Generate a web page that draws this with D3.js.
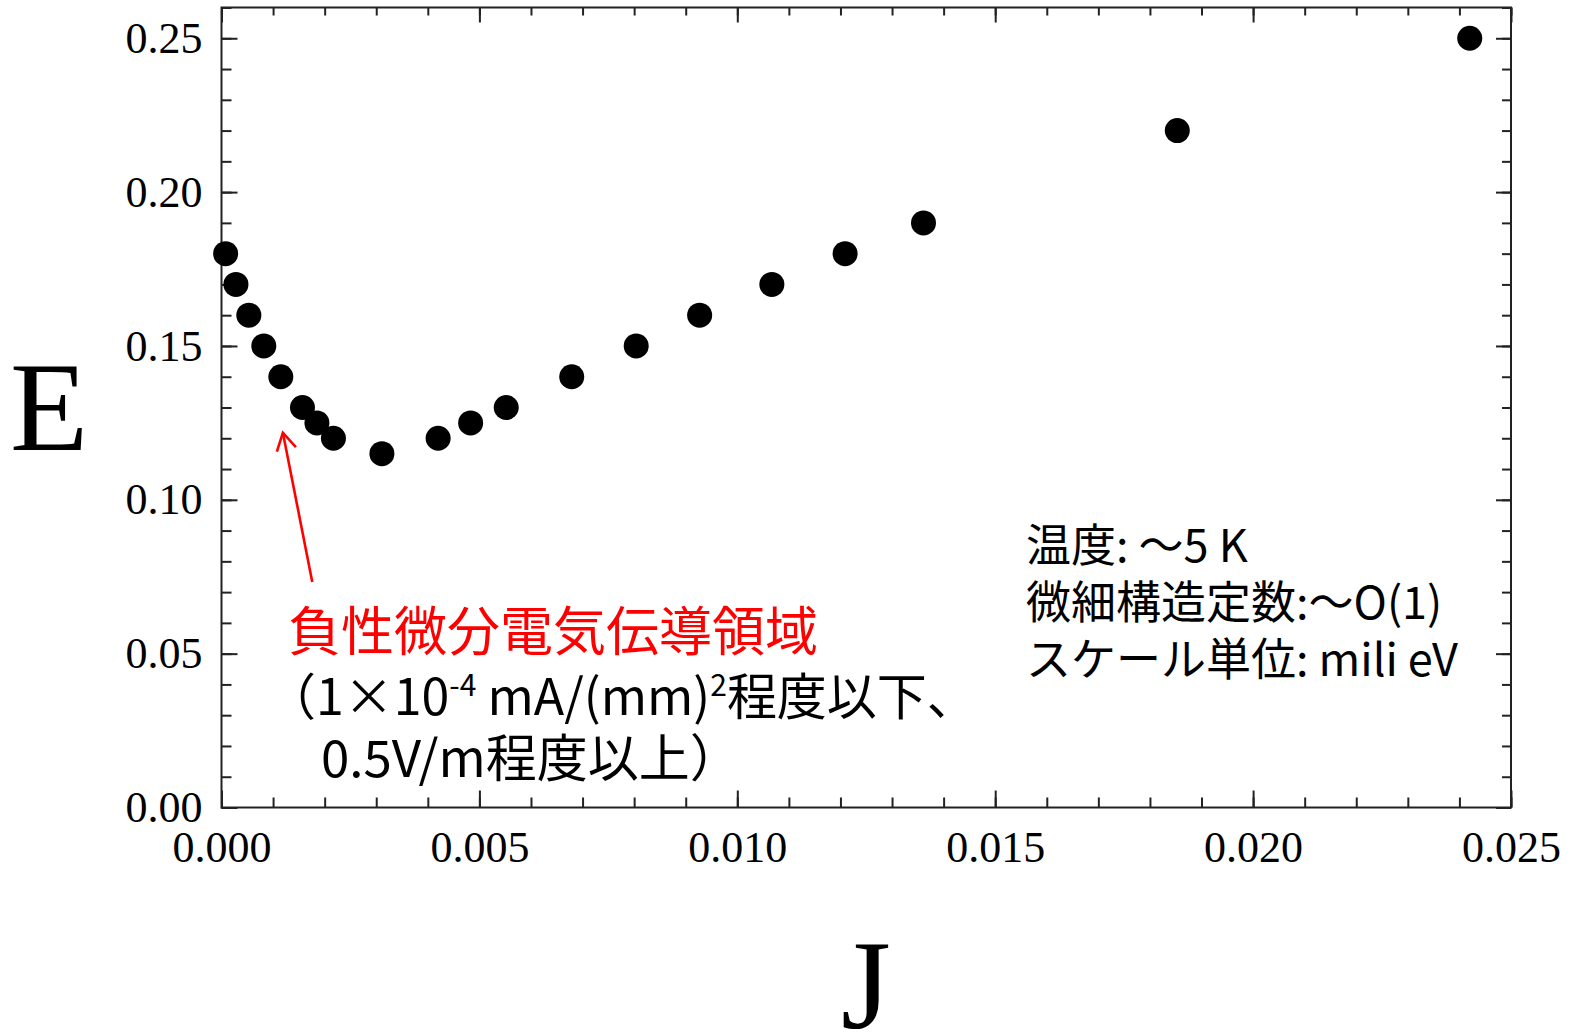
<!DOCTYPE html>
<html>
<head>
<meta charset="utf-8">
<script src="https://cdn.jsdelivr.net/npm/d3@7"></script>
<style>
  html, body { margin: 0; padding: 0; background: #fff; }
  #chart { width: 1574px; height: 1033px; }
  .tick text { font-family: "Liberation Serif", "Times New Roman", serif; font-size: 44px; fill: #000; }
  .jp { font-family: "Noto Sans CJK JP", sans-serif; }
</style>
</head>
<body>
<div id="chart"></div>
<script>
// current density J vs field E
const J = [0.00008, 0.00028, 0.00053, 0.00082, 0.00115, 0.00157, 0.00185, 0.00217,
  0.00311, 0.0042, 0.00483, 0.00552, 0.00679, 0.00804, 0.00927, 0.01067,
  0.01209, 0.01361, 0.01853, 0.0242];
const E = [0.18, 0.17, 0.16, 0.15, 0.14, 0.13, 0.125, 0.12,
  0.115, 0.12, 0.125, 0.13, 0.14, 0.15, 0.16, 0.17,
  0.18, 0.19, 0.22, 0.25];

const xMajor = [0, 0.005, 0.01, 0.015, 0.02, 0.025];
const yMajor = [0, 0.05, 0.1, 0.15, 0.2, 0.25];
const xMinor = d3.range(0, 26).map(d => d / 1000);
const yMinor = d3.range(0, 27).map(d => d / 100);

const infoLines = ["温度: 〜5 K", "微細構造定数:〜O(1)", "スケール単位: mili eV"];
const regionLabel = "負性微分電気伝導領域";

const width = 1574, height = 1033;
const margin = { left: 221.5, right: 63, top: 7.5, bottom: 225.5 };
const innerW = width - margin.left - margin.right;
const innerH = height - margin.top - margin.bottom;

const svg = d3.select("#chart").append("svg")
  .attr("width", width)
  .attr("height", height);

const x = d3.scaleLinear().domain([0, 0.025]).range([0, innerW]);
const y = d3.scaleLinear().domain([0, 0.26]).range([innerH, 0]);

const g = svg.append("g").attr("transform", `translate(${margin.left},${margin.top})`);

function styleAxis(sel) {
  sel.select(".domain").remove();
  sel.selectAll(".tick line").attr("stroke", "#222").attr("stroke-width", 2);
}

// bottom
g.append("g").attr("transform", `translate(0,${innerH})`)
  .call(d3.axisBottom(x).tickValues(xMinor).tickSize(-10).tickFormat("")).call(styleAxis);
g.append("g").attr("transform", `translate(0,${innerH})`)
  .call(d3.axisBottom(x).tickValues(xMajor).tickSize(-17).tickPadding(23.5).tickFormat(d3.format(".3f")))
  .call(styleAxis);
// top
g.append("g")
  .call(d3.axisTop(x).tickValues(xMinor).tickSize(-8).tickFormat("")).call(styleAxis);
g.append("g")
  .call(d3.axisTop(x).tickValues(xMajor).tickSize(-15).tickFormat("")).call(styleAxis);
// left
g.append("g")
  .call(d3.axisLeft(y).tickValues(yMinor).tickSize(-10).tickFormat("")).call(styleAxis);
g.append("g")
  .call(d3.axisLeft(y).tickValues(yMajor).tickSize(-16).tickPadding(19).tickFormat(d3.format(".2f")))
  .call(styleAxis);
// right
g.append("g").attr("transform", `translate(${innerW},0)`)
  .call(d3.axisRight(y).tickValues(yMinor).tickSize(-9).tickFormat("")).call(styleAxis);
g.append("g").attr("transform", `translate(${innerW},0)`)
  .call(d3.axisRight(y).tickValues(yMajor).tickSize(-15).tickFormat("")).call(styleAxis);

g.append("rect")
  .attr("width", innerW).attr("height", innerH)
  .attr("fill", "none").attr("stroke", "#222").attr("stroke-width", 2);

// points
g.selectAll("circle.pt")
  .data(J.map((d, i) => [d, E[i]]))
  .join("circle")
  .attr("class", "pt")
  .attr("cx", d => x(d[0]))
  .attr("cy", d => y(d[1]))
  .attr("r", 12.5)
  .attr("fill", "#000");

// axis titles
svg.append("text")
  .attr("x", 10).attr("y", 450)
  .attr("font-family", "Liberation Serif, serif")
  .attr("font-size", 128)
  .text("E");
svg.append("text")
  .attr("x", 866).attr("y", 1028)
  .attr("text-anchor", "middle")
  .attr("font-family", "Liberation Serif, serif")
  .attr("font-size", 128)
  .text("J");

// arrow to negative-differential region
g.append("line")
  .attr("x1", x(0.00176)).attr("y1", y(0.0733))
  .attr("x2", x(0.00119)).attr("y2", y(0.1218))
  .attr("stroke", "#ff0000").attr("stroke-width", 2.6);
const tip = [x(0.00119), y(0.1218)];
g.append("path")
  .attr("d", `M${tip[0] - 6},${tip[1] + 19} L${tip[0]},${tip[1]} L${tip[0] + 13},${tip[1] + 14.5}`)
  .attr("fill", "none").attr("stroke", "#ff0000").attr("stroke-width", 2.6);

// annotations
svg.append("text").attr("class", "jp")
  .attr("x", 288).attr("y", 651)
  .attr("font-size", 53)
  .attr("fill", "#ff0000")
  .text(regionLabel);

const t2 = svg.append("text").attr("class", "jp")
  .attr("x", 266).attr("y", 715)
  .attr("font-size", 50).attr("fill", "#000");
t2.append("tspan").text("（1×10");
t2.append("tspan").attr("font-size", 30).attr("dy", -19).text("-4");
t2.append("tspan").attr("dy", 19).text(" mA/(mm)");
t2.append("tspan").attr("font-size", 30).attr("dy", -19).text("2");
t2.append("tspan").attr("dy", 19).text("程度以下、");

svg.append("text").attr("class", "jp")
  .attr("x", 321).attr("y", 777)
  .attr("font-size", 51).attr("fill", "#000")
  .text("0.5V/m程度以上）");

svg.append("g").selectAll("text")
  .data(infoLines)
  .join("text")
  .attr("class", "jp")
  .attr("x", 1026)
  .attr("y", (d, i) => 562 + i * 57)
  .attr("font-size", 45)
  .attr("fill", "#000")
  .text(d => d);
</script>
</body>
</html>
